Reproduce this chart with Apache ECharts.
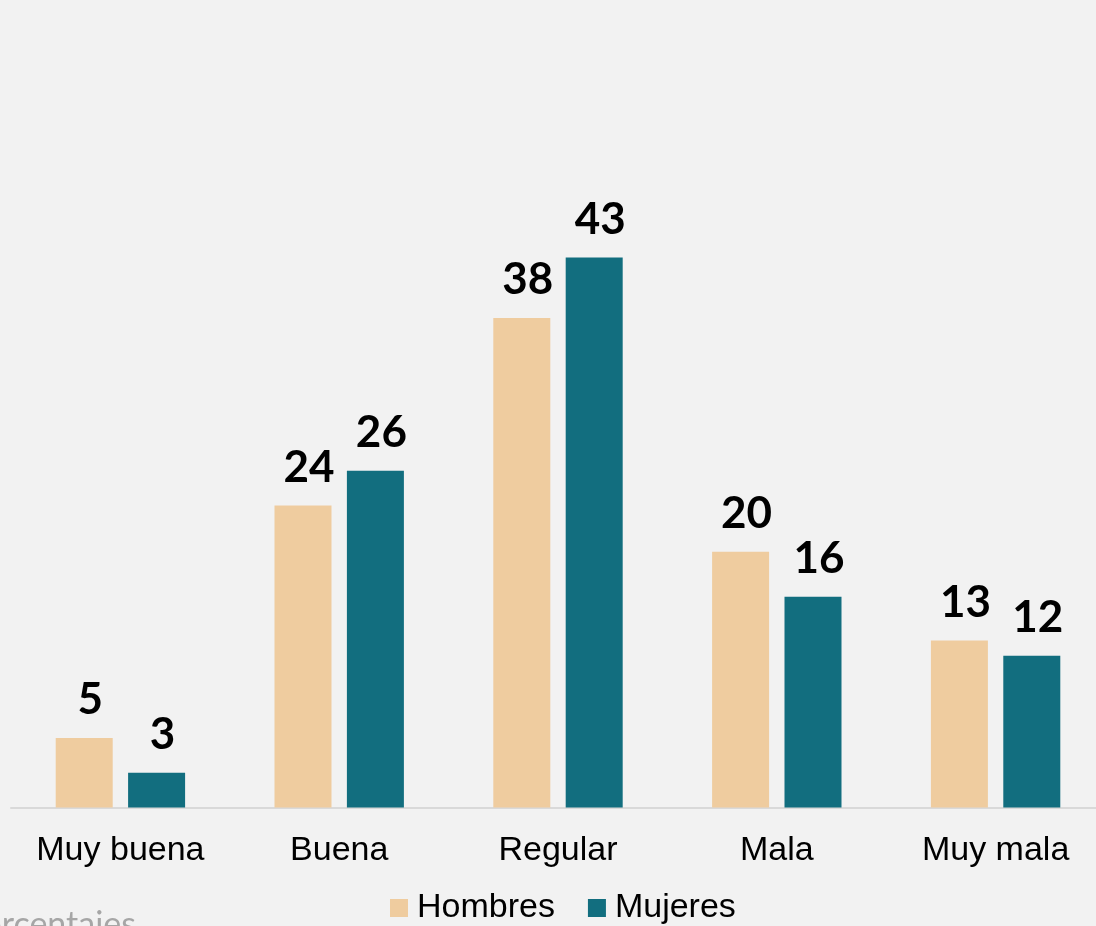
<!DOCTYPE html>
<html>
<head>
<meta charset="utf-8">
<script src="https://cdn.jsdelivr.net/npm/echarts@6/dist/echarts.min.js"></script>
<style>
  html, body { margin: 0; padding: 0; background: #f2f2f2; }
  #main { width: 1096px; height: 926px; }
</style>
</head>
<body>
<div id="main"></div>
<script>
// categorias y valores (porcentajes)
var categories = ['Muy buena', 'Buena', 'Regular', 'Mala', 'Muy mala'];
var hombres = [5.4, 23.5, 38.1, 19.9, 13.0];
var mujeres = [2.7, 26.2, 42.8, 16.4, 11.8];
var seriesNames = ['Hombres', 'Mujeres'];

var chart = echarts.init(document.getElementById('main'));

var labelStyle = {
  show: true,
  position: 'top',
  distance: 16,
  offset: [6, 0],
  color: '#000',
  fontFamily: 'Lato',
  fontWeight: 'bold',
  fontSize: 44,
  formatter: function (p) {
    return Math.round(p.value);
  }
};

chart.setOption({
  backgroundColor: '#f2f2f2',
  animation: false,
  grid: {
    left: 11,
    width: 1094,
    top: 165,
    bottom: 118.5,
    outerBoundsMode: 'none'
  },
  legend: {
    data: seriesNames,
    left: 390,
    top: 891,
    padding: 0,
    icon: 'rect',
    itemWidth: 18,
    itemHeight: 18,
    itemGap: 33,
    textStyle: {
      color: '#000',
      fontFamily: 'Liberation Sans',
      fontSize: 34,
      padding: [0, 0, 0, 4]
    }
  },
  xAxis: {
    type: 'category',
    data: categories,
    axisLine: { lineStyle: { color: '#d9d9d9', width: 2 } },
    axisTick: { show: false },
    axisLabel: {
      color: '#000',
      fontFamily: 'Liberation Sans',
      fontSize: 34,
      margin: 26
    }
  },
  yAxis: {
    type: 'value',
    min: 0,
    max: 50,
    show: false,
    splitLine: { show: false }
  },
  graphic: [{
    type: 'text',
    left: -37,
    top: 908,
    style: {
      text: 'Porcentajes',
      fill: '#a6a6a6',
      font: '34px Lato'
    }
  }],
  series: [
    {
      name: seriesNames[0],
      type: 'bar',
      data: hombres,
      barWidth: 57,
      barGap: '27%',
      itemStyle: { color: '#efcc9f' },
      label: labelStyle
    },
    {
      name: seriesNames[1],
      type: 'bar',
      data: mujeres,
      barWidth: 57,
      barGap: '27%',
      itemStyle: { color: '#126e7f' },
      label: labelStyle
    }
  ]
});
</script>
</body>
</html>
